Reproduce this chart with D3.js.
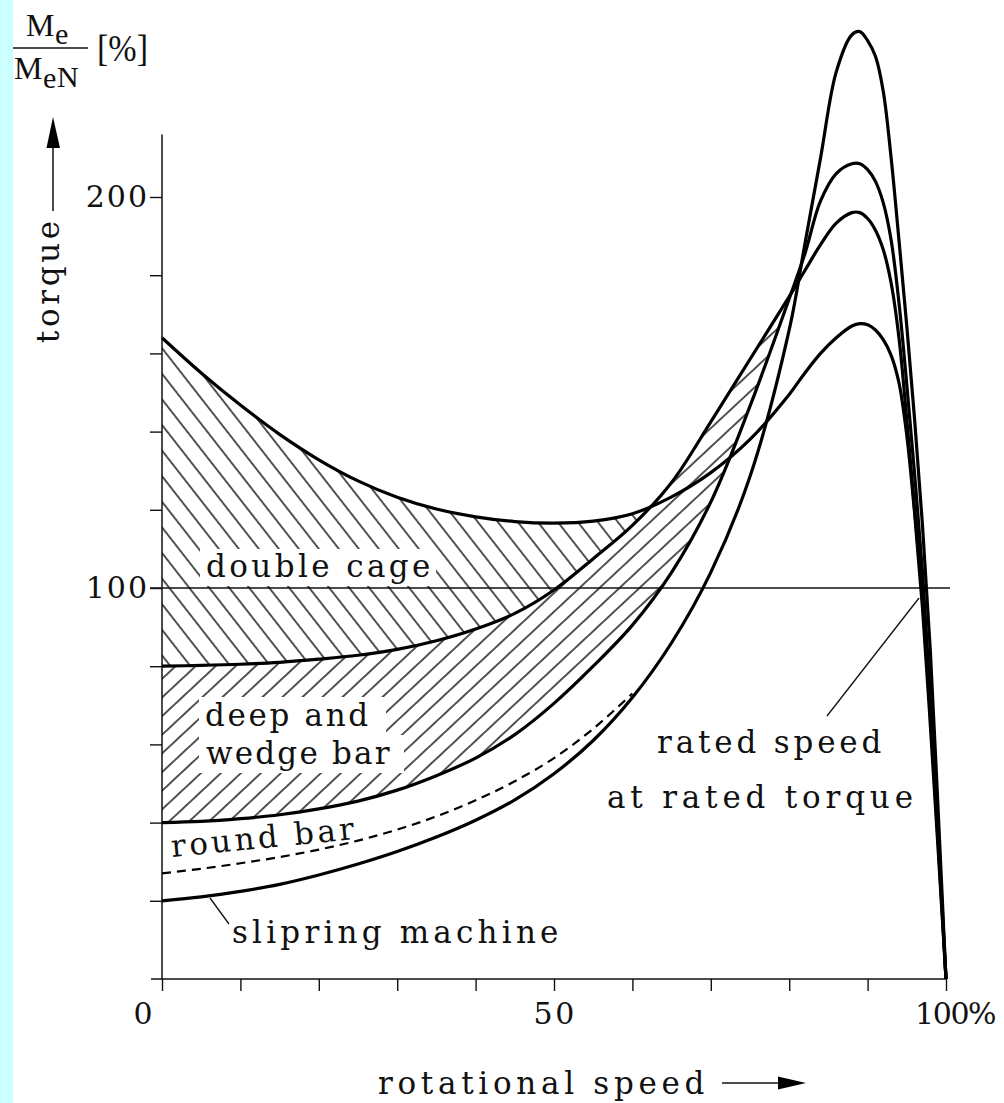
<!DOCTYPE html>
<html>
<head>
<meta charset="utf-8">
<script src="https://cdn.jsdelivr.net/npm/d3@7"></script>
<style>
  body { margin: 0; background: #fff; }
</style>
</head>
<body>
<div id="chart"></div>
<script>
// rotational speed in % of synchronous speed
const speed = [0, 5, 10, 15, 20, 25, 30, 35, 40, 45, 50, 55, 60, 65, 70, 75, 80,
  82, 84, 86, 88, 89, 90, 91, 92, 93, 94, 95, 96, 97, 98, 99, 100];

// torque Me/MeN in %
const doubleCage = [164, 155, 146.8, 139.3, 132.8, 127.4, 123.2, 120.2, 118.2, 117, 116.6, 117.1, 119, 123.3, 129.5, 138, 149.5,
  155, 160, 164, 167, 167.6, 167.3, 166, 163.5, 159.5, 152.5, 139, 119, 95, 65, 33, 0];
const deepBar = [80, 80.2, 80.5, 81, 81.8, 82.8, 84.3, 86.5, 89.5, 93.5, 99.5, 107.5, 116, 127, 142.5, 158.5, 174.5,
  181.2, 187.8, 193.3, 196, 196, 194.5, 191.5, 186.5, 178, 164, 143, 120, 97, 68, 35, 0];
const roundBar = [40, 40.3, 41, 42, 43.5, 45.5, 48.3, 52, 56.5, 62.5, 70.5, 80, 90.5, 104, 122, 146.5, 174,
  185.5, 199, 206, 208.5, 208.5, 207, 204, 198.5, 189, 173, 152, 129, 104, 72, 37, 0];
const slipring = [20, 21, 22.4, 24.2, 26.6, 29.4, 32.6, 36.3, 40.6, 45.8, 52.5, 61, 72, 86, 104, 128.5, 166,
  188, 210, 232, 241.5, 242.3, 240, 236, 227, 210, 189, 167, 143, 116, 84, 43, 0];

// dashed curve, runs into the slipring curve
const dashedSpeed = [0, 5, 10, 15, 20, 25, 30, 35, 40, 45, 50, 55, 60];
const dashedTorque = [27, 28.2, 29.6, 31.2, 33.1, 35.4, 38.2, 41.6, 45.7, 50.6, 56.5, 64, 73];

const yTicks = d3.range(20, 201, 20);
const yLabels = [100, 200];
const xTicks = d3.range(0, 101, 10);

const W = 1004, H = 1103;
const serif = "'DejaVu Serif', 'Liberation Serif', serif";
const roman = "'Liberation Serif', serif";
const ink = "#111";
const pitch = 20.4; // typewriter advance of the labels

const svg = d3.select("#chart").append("svg")
    .attr("width", W)
    .attr("height", H)
    .attr("viewBox", [0, 0, W, H])
    .style("display", "block");

svg.append("rect").attr("width", W).attr("height", H).attr("fill", "#fff");
svg.append("rect").attr("width", 13).attr("height", H).attr("fill", "#ccffff");

const x = d3.scaleLinear().domain([0, 100]).range([162, 946]);
const y = d3.scaleLinear().domain([0, 200]).range([979, 197]);

const curve = d3.curveCatmullRom.alpha(0.5);
const pairs = (xs, ys) => xs.map((s, i) => [s, ys[i]]);
const line = d3.line().x(d => x(d[0])).y(d => y(d[1])).curve(curve);

const defs = svg.append("defs");

function hatch(id, angle, gap) {
  defs.append("pattern")
      .attr("id", id)
      .attr("patternUnits", "userSpaceOnUse")
      .attr("width", 10)
      .attr("height", gap)
      .attr("patternTransform", `rotate(${angle})`)
    .append("line")
      .attr("x1", -1).attr("x2", 11)
      .attr("y1", gap / 2).attr("y2", gap / 2)
      .attr("stroke", "#000")
      .attr("stroke-width", 1.35);
}
hatch("hatchDown", 52, 20 * Math.sin(52 * Math.PI / 180));
hatch("hatchUp", -43, 20 * Math.sin(43 * Math.PI / 180));

const below = ys => d3.area().x(d => x(d[0])).y0(y(-20)).y1(d => y(d[1])).curve(curve)(pairs(speed, ys));
const above = ys => d3.area().x(d => x(d[0])).y0(y(300)).y1(d => y(d[1])).curve(curve)(pairs(speed, ys));

function hatchRegion(id, topYs, bottomYs, xMax, pattern) {
  defs.append("clipPath").attr("id", id + "Top").append("path").attr("d", below(topYs));
  defs.append("clipPath").attr("id", id + "Bot").append("path").attr("d", above(bottomYs));
  svg.append("g")
      .attr("clip-path", `url(#${id}Top)`)
    .append("rect")
      .attr("clip-path", `url(#${id}Bot)`)
      .attr("x", x(0))
      .attr("y", y(260))
      .attr("width", x(xMax) - x(0))
      .attr("height", y(0) - y(260))
      .attr("fill", `url(#${pattern})`);
}

// double cage band and deep bar band
hatchRegion("dc", doubleCage, deepBar, 72, "hatchDown");
hatchRegion("db", deepBar, roundBar, 86, "hatchUp");

// clear hatching behind labels
[[200, 549, 236, 37], [199, 697, 187, 38], [199, 735, 205, 38]].forEach(([bx, by, bw, bh]) => {
  svg.append("rect").attr("x", bx).attr("y", by).attr("width", bw).attr("height", bh).attr("fill", "#fff");
});

// rated torque line
svg.append("line")
    .attr("x1", 150).attr("x2", 950)
    .attr("y1", y(100)).attr("y2", y(100))
    .attr("stroke", ink).attr("stroke-width", 1.4);

// y axis
const yAxis = svg.append("g")
    .attr("transform", `translate(${x(0)},0)`)
    .call(d3.axisLeft(y)
      .tickValues(yTicks)
      .tickSize(12)
      .tickPadding(3)
      .tickFormat(d => yLabels.includes(d) ? d : ""))
    .call(g => g.select(".domain").remove());
yAxis.selectAll(".tick line").attr("stroke", ink).attr("stroke-width", 1.4);
yAxis.selectAll(".tick text")
    .attr("fill", ink)
    .attr("font-family", serif)
    .attr("font-size", 30)
    .filter(d => yLabels.includes(d))
    .attr("textLength", 3 * pitch)
    .attr("lengthAdjust", "spacing");

svg.append("line")
    .attr("x1", x(0)).attr("x2", x(0))
    .attr("y1", y(0)).attr("y2", y(216))
    .attr("stroke", ink).attr("stroke-width", 1.5);

// x axis
const xAxis = svg.append("g")
    .attr("transform", `translate(0,${y(0)})`)
    .call(d3.axisBottom(x).tickValues(xTicks).tickSize(12).tickFormat(""))
    .call(g => g.select(".domain").remove());
xAxis.selectAll(".tick line").attr("stroke", ink).attr("stroke-width", 1.4);

svg.append("line")
    .attr("x1", 151).attr("x2", x(100))
    .attr("y1", y(0)).attr("y2", y(0))
    .attr("stroke", ink).attr("stroke-width", 1.5);

const label = (tx, ty, str, anchor = "start", size = 31) => {
  const t = svg.append("text")
      .attr("x", tx).attr("y", ty)
      .attr("text-anchor", anchor)
      .attr("font-family", serif)
      .attr("font-size", size)
      .attr("fill", ink)
      .text(str);
  if (str.length > 1) t.attr("textLength", str.length * pitch).attr("lengthAdjust", "spacing");
  return t;
};

label(x(0) - 19, 1024, "0", "middle", 30);
label(x(50), 1024, "50", "middle", 30);
label(x(100) - 31, 1024, "100%", "start", 30);

// curves
[doubleCage, deepBar, roundBar, slipring].forEach(ys => {
  svg.append("path")
      .attr("d", line(pairs(speed, ys)))
      .attr("fill", "none")
      .attr("stroke", "#000")
      .attr("stroke-width", 3.2)
      .attr("stroke-linejoin", "round");
});

svg.append("path")
    .attr("d", line(pairs(dashedSpeed, dashedTorque)))
    .attr("fill", "none")
    .attr("stroke", "#000")
    .attr("stroke-width", 2.2)
    .attr("stroke-dasharray", "9,6");

// curve labels
label(206, 577, "double cage");
label(205, 726, "deep and");
label(206, 764, "wedge bar");
label(172, 857, "round bar").attr("transform", "rotate(-5.6,172,857)");
label(232, 943, "slipring machine");
label(657, 753, "rated speed");
label(607, 808, "at rated torque");

svg.append("line")
    .attr("x1", 210).attr("y1", 898).attr("x2", 229).attr("y2", 924)
    .attr("stroke", ink).attr("stroke-width", 1.3);
svg.append("line")
    .attr("x1", 827).attr("y1", 716).attr("x2", 919).attr("y2", 598)
    .attr("stroke", ink).attr("stroke-width", 1.3);

// axis titles
label(0, 0, "torque", "middle").attr("transform", "translate(59,282) rotate(-90)");
svg.append("line")
    .attr("x1", 53).attr("x2", 53).attr("y1", 211).attr("y2", 145)
    .attr("stroke", ink).attr("stroke-width", 1.5);
svg.append("path")
    .attr("d", "M53,117 L46.5,148 L60,148 Z")
    .attr("fill", "#000");

label(378, 1094, "rotational speed");
svg.append("line")
    .attr("x1", 722).attr("x2", 782).attr("y1", 1083).attr("y2", 1083)
    .attr("stroke", ink).attr("stroke-width", 1.5);
svg.append("path")
    .attr("d", "M806,1083 L778,1076.5 L778,1089.5 Z")
    .attr("fill", "#000");

// unit fraction Me / MeN [%]
const frac = (tx, ty, str, size = 32) => svg.append("text")
    .attr("x", tx).attr("y", ty)
    .attr("font-family", roman)
    .attr("font-size", size)
    .attr("fill", ink)
    .text(str);
frac(26, 36, "M");
frac(55, 44, "e", 30);
svg.append("line")
    .attr("x1", 13).attr("x2", 88).attr("y1", 48).attr("y2", 48)
    .attr("stroke", ink).attr("stroke-width", 1.5);
frac(14, 79, "M");
frac(43, 88, "e", 30);
frac(57, 87, "N", 30);
frac(97, 61, "[%]", 38).attr("textLength", 51).attr("lengthAdjust", "spacingAndGlyphs");
</script>
</body>
</html>
